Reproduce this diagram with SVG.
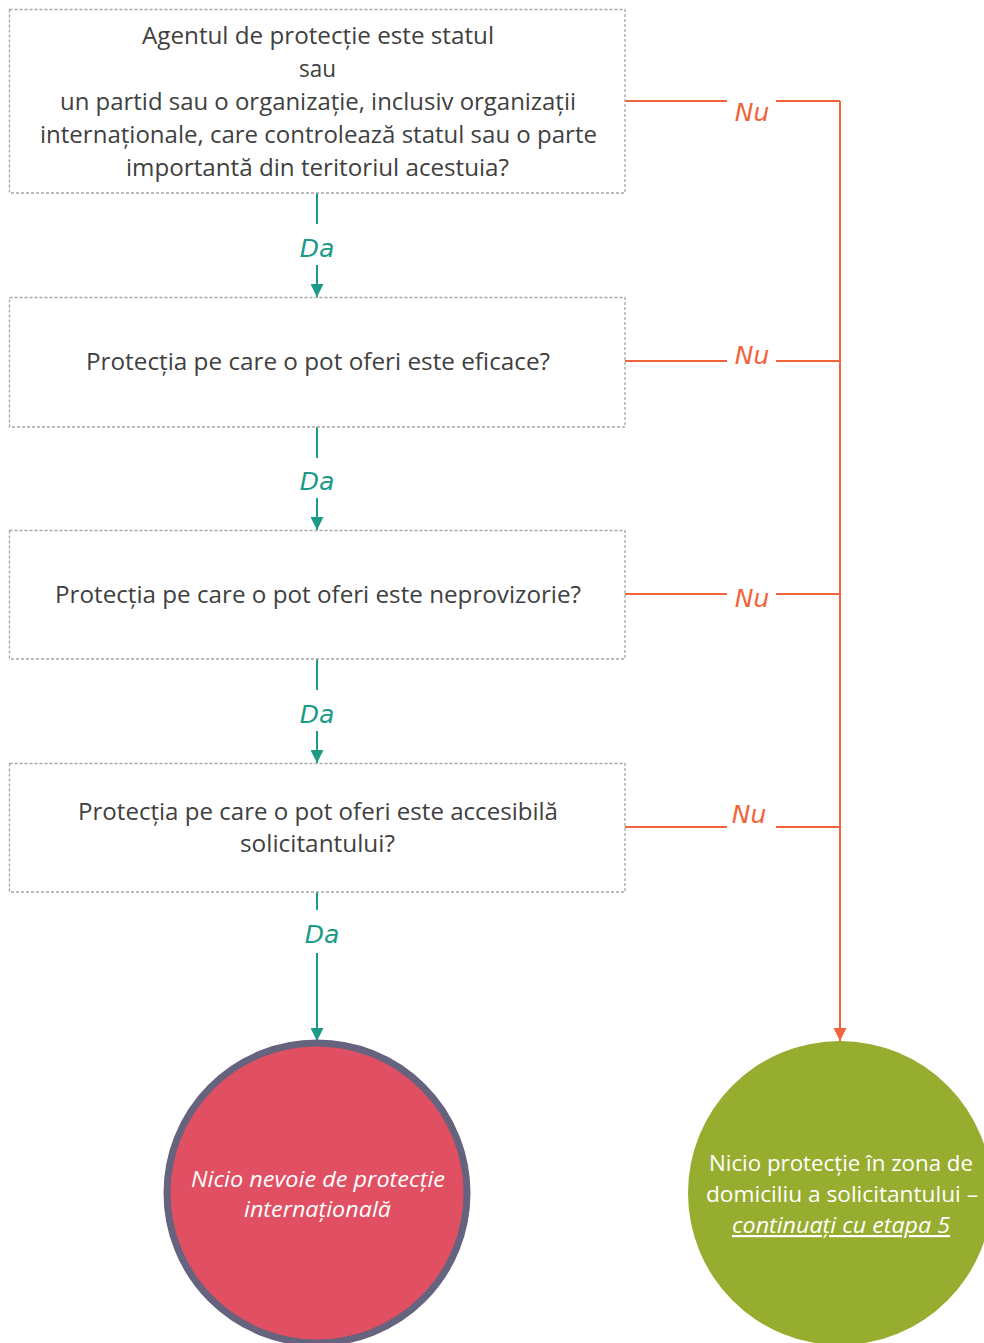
<svg xmlns="http://www.w3.org/2000/svg" width="984" height="1343" viewBox="0 0 984 1343">
<defs>
<style>
.box{fill:#ffffff;stroke:#a6a6a6;stroke-width:1.3;stroke-dasharray:3 2}
.t{font-family:"Open Sans","Liberation Sans",sans-serif;font-size:23.5px;fill:#404040;text-anchor:middle}
.da{font-family:"DejaVu Sans",sans-serif;font-style:italic;font-size:25px;fill:#1a9a87;text-anchor:middle}
.nu{font-family:"DejaVu Sans",sans-serif;font-style:italic;font-size:25px;fill:#f0643c;text-anchor:middle}
.g{stroke:#1a9a87;stroke-width:2;fill:none}
.o{stroke:#f0643c;stroke-width:2;fill:none}
.w{font-family:"Open Sans","Liberation Sans",sans-serif;font-size:22px;fill:#ffffff;text-anchor:middle}
</style>
<marker id="ag" viewBox="0 0 10 10" refX="10" refY="5" markerWidth="13" markerHeight="13" markerUnits="userSpaceOnUse" orient="auto"><path d="M0,0 L10,5 L0,10 z" fill="#1a9a87"/></marker>
<marker id="ao" viewBox="0 0 10 10" refX="10" refY="5" markerWidth="13" markerHeight="13" markerUnits="userSpaceOnUse" orient="auto"><path d="M0,0 L10,5 L0,10 z" fill="#f0643c"/></marker>
</defs>
<rect width="984" height="1343" fill="#ffffff"/>
<g id="connectors">
<path class="g" d="M317,193 V224"/>
<path class="g" d="M317,265 V297" marker-end="url(#ag)"/>
<text class="da" x="317" y="257">Da</text>
<path class="g" d="M317,427 V458"/>
<path class="g" d="M317,498 V530" marker-end="url(#ag)"/>
<text class="da" x="317" y="490">Da</text>
<path class="g" d="M317,659 V690"/>
<path class="g" d="M317,731 V763" marker-end="url(#ag)"/>
<text class="da" x="317" y="723">Da</text>
<path class="g" d="M317,892 V910"/>
<path class="g" d="M317,953 V1041" marker-end="url(#ag)"/>
<text class="da" x="322" y="943">Da</text>
<path class="o" d="M625,101 H727 M776,101 H840"/>
<text class="nu" x="752" y="121">Nu</text>
<path class="o" d="M625,361 H727 M776,361 H840"/>
<text class="nu" x="752" y="364">Nu</text>
<path class="o" d="M625,594 H727 M776,594 H840"/>
<text class="nu" x="752" y="607">Nu</text>
<path class="o" d="M625,827 H727 M776,827 H840"/>
<text class="nu" x="749" y="823">Nu</text>
<path class="o" d="M840,101 V1041" marker-end="url(#ao)"/>
</g>
<g id="q1">
<rect class="box" x="9.5" y="9.5" width="615.5" height="183.5"/>
<text class="t" x="318" y="44" textLength="352" lengthAdjust="spacingAndGlyphs">Agentul de protecție este statul</text>
<text class="t" x="317.5" y="77" textLength="37" lengthAdjust="spacingAndGlyphs">sau</text>
<text class="t" x="318" y="110" textLength="516" lengthAdjust="spacingAndGlyphs">un partid sau o organizație, inclusiv organizații</text>
<text class="t" x="318.5" y="143" textLength="557" lengthAdjust="spacingAndGlyphs">internaționale, care controlează statul sau o parte</text>
<text class="t" x="317.5" y="176" textLength="383" lengthAdjust="spacingAndGlyphs">importantă din teritoriul acestuia?</text>
</g>
<g id="q2">
<rect class="box" x="9.5" y="297.5" width="615.5" height="129.5"/>
<text class="t" x="318" y="370" textLength="464" lengthAdjust="spacingAndGlyphs">Protecția pe care o pot oferi este eficace?</text>
</g>
<g id="q3">
<rect class="box" x="9.5" y="530.5" width="615.5" height="128.5"/>
<text class="t" x="318" y="603" textLength="526" lengthAdjust="spacingAndGlyphs">Protecția pe care o pot oferi este neprovizorie?</text>
</g>
<g id="q4">
<rect class="box" x="9.5" y="763.5" width="615.5" height="128.5"/>
<text class="t" x="318" y="820" textLength="480" lengthAdjust="spacingAndGlyphs">Protecția pe care o pot oferi este accesibilă</text>
<text class="t" x="317.5" y="852" textLength="155" lengthAdjust="spacingAndGlyphs">solicitantului?</text>
</g>
<g id="end-no">
<circle cx="317" cy="1193" r="150" fill="#e04f62" stroke="#65637e" stroke-width="7"/>
<text class="w" x="318" y="1187" font-style="italic" textLength="254" lengthAdjust="spacingAndGlyphs">Nicio nevoie de protecție</text>
<text class="w" x="317.5" y="1217" font-style="italic" textLength="147" lengthAdjust="spacingAndGlyphs">internațională</text>
</g>
<g id="end-yes">
<circle cx="840" cy="1193" r="152" fill="#97ad30"/>
<text class="w" x="841" y="1171" textLength="264" lengthAdjust="spacingAndGlyphs">Nicio protecție în zona de</text>
<text class="w" x="842" y="1202" textLength="272" lengthAdjust="spacingAndGlyphs">domiciliu a solicitantului –</text>
<text class="w" x="841" y="1233" font-style="italic" text-decoration="underline" textLength="218" lengthAdjust="spacingAndGlyphs">continuați cu etapa 5</text>
</g>
</svg>
